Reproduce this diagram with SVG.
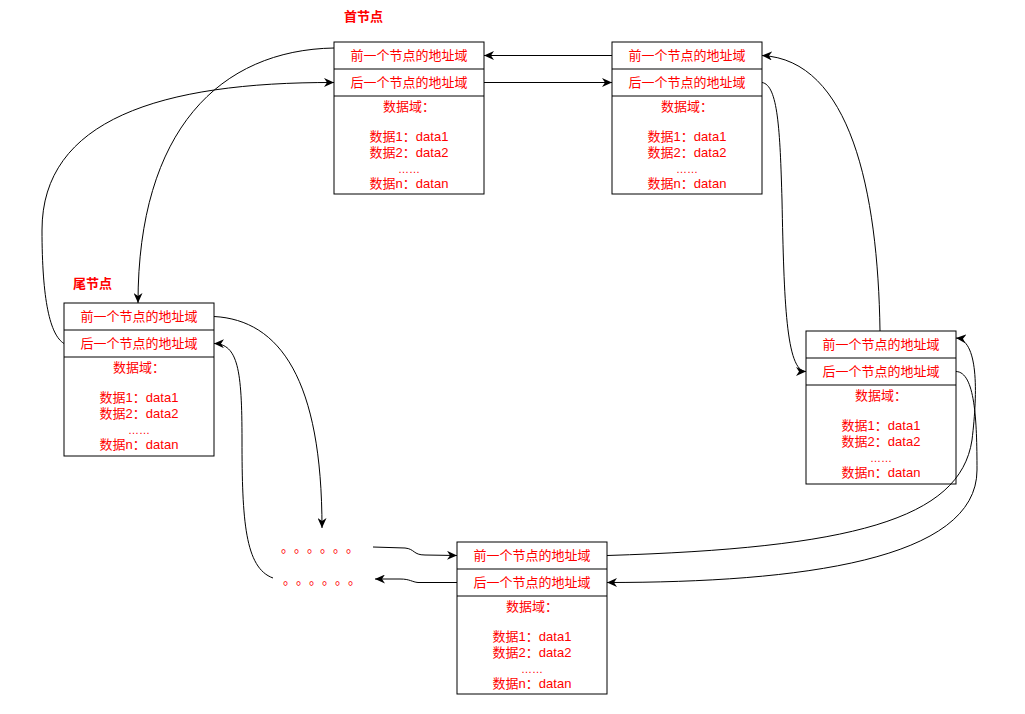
<svg xmlns="http://www.w3.org/2000/svg" width="1025" height="714" viewBox="0 0 1025 714">
<defs>
<style>
.box{fill:#fff;stroke:#000;stroke-width:1}
.div{stroke:#000;stroke-width:1}
.t{font-family:"Liberation Sans","Noto Sans CJK SC",sans-serif;font-size:13px;fill:#ff0000;text-anchor:middle}
.el{font-size:11px}
.lbl{font-family:"Liberation Sans","Noto Sans CJK SC",sans-serif;font-size:13px;font-weight:bold;fill:#ff0000}
.dots{font-family:"Noto Sans CJK SC",sans-serif;font-size:13px;fill:#ff0000}
.c{fill:none;stroke:#000;stroke-width:1}
.a{marker-end:url(#arr)}
</style>
<marker id="arr" markerUnits="userSpaceOnUse" markerWidth="11" markerHeight="9" viewBox="0 0 11 9" refX="10" refY="4.5" orient="auto">
<path d="M0,0 L10,4.5 L0,9 L3,4.5 z" fill="#000"/>
</marker>
</defs>
<rect width="1025" height="714" fill="#fff"/>

<text class="lbl" x="344" y="21">首节点</text>
<text class="lbl" x="73" y="288">尾节点</text>

<g id="node-head">
<rect class="box" x="334" y="42" width="150" height="152"/>
<line class="div" x1="334" y1="69" x2="484" y2="69"/>
<line class="div" x1="334" y1="96" x2="484" y2="96"/>
<text class="t" x="409" y="60">前一个节点的地址域</text>
<text class="t" x="409" y="87">后一个节点的地址域</text>
<text class="t" x="409" y="111">数据域：</text>
<text class="t" x="409" y="141">数据1：data1</text>
<text class="t" x="409" y="157">数据2：data2</text>
<text class="t el" x="409" y="172.5">……</text>
<text class="t" x="409" y="188">数据n：datan</text>
</g>

<g id="node-2">
<rect class="box" x="612" y="42" width="150" height="152"/>
<line class="div" x1="612" y1="69" x2="762" y2="69"/>
<line class="div" x1="612" y1="96" x2="762" y2="96"/>
<text class="t" x="687" y="60">前一个节点的地址域</text>
<text class="t" x="687" y="87">后一个节点的地址域</text>
<text class="t" x="687" y="111">数据域：</text>
<text class="t" x="687" y="141">数据1：data1</text>
<text class="t" x="687" y="157">数据2：data2</text>
<text class="t el" x="687" y="172.5">……</text>
<text class="t" x="687" y="188">数据n：datan</text>
</g>

<g id="node-3">
<rect class="box" x="806" y="331" width="150" height="153"/>
<line class="div" x1="806" y1="358" x2="956" y2="358"/>
<line class="div" x1="806" y1="385" x2="956" y2="385"/>
<text class="t" x="881" y="349">前一个节点的地址域</text>
<text class="t" x="881" y="376">后一个节点的地址域</text>
<text class="t" x="881" y="400">数据域：</text>
<text class="t" x="881" y="430">数据1：data1</text>
<text class="t" x="881" y="446">数据2：data2</text>
<text class="t el" x="881" y="461.5">……</text>
<text class="t" x="881" y="477">数据n：datan</text>
</g>

<g id="node-4">
<rect class="box" x="457" y="542" width="150" height="152"/>
<line class="div" x1="457" y1="569" x2="607" y2="569"/>
<line class="div" x1="457" y1="596" x2="607" y2="596"/>
<text class="t" x="532" y="560">前一个节点的地址域</text>
<text class="t" x="532" y="587">后一个节点的地址域</text>
<text class="t" x="532" y="611">数据域：</text>
<text class="t" x="532" y="641">数据1：data1</text>
<text class="t" x="532" y="657">数据2：data2</text>
<text class="t el" x="532" y="672.5">……</text>
<text class="t" x="532" y="688">数据n：datan</text>
</g>

<g id="node-tail">
<rect class="box" x="64" y="303" width="150" height="153"/>
<line class="div" x1="64" y1="330" x2="214" y2="330"/>
<line class="div" x1="64" y1="357" x2="214" y2="357"/>
<text class="t" x="139" y="321">前一个节点的地址域</text>
<text class="t" x="139" y="348">后一个节点的地址域</text>
<text class="t" x="139" y="372">数据域：</text>
<text class="t" x="139" y="402">数据1：data1</text>
<text class="t" x="139" y="418">数据2：data2</text>
<text class="t el" x="139" y="433.5">……</text>
<text class="t" x="139" y="449">数据n：datan</text>
</g>

<g id="ellipsis">
<text class="dots" x="281 294 307 320 333 346" y="552">。。。。。。</text>
<text class="dots" x="283 296 309 322 335 348" y="584">。。。。。。</text>
</g>

<g id="connectors">
<path class="c a" d="M612,55.5 L484,55.5"/>
<path class="c a" d="M484,82.5 L612,82.5"/>
<path class="c a" d="M762,82.5 C778,85 780,130 782,200 C784,300 786,371.5 806,371.5"/>
<path class="c a" d="M880,331 C878,190 850,60 762,55.5"/>
<path class="c a" d="M956,371.5 C975,372 977,420 977,470 C977,560 800,582.5 607,582.5"/>
<path class="c a" d="M607,555.5 C850,548 960,520 972,440 C978,390 978,340 956,338"/>
<path class="c a" d="M373,547 L405,548 C415,549 413,555 425,555 L457,555.5"/>
<path class="c a" d="M457,582.5 L418,582.5 C412,582 410,579 400,579 L375,579"/>
<path class="c a" d="M214,316.5 C280,320 322,380 322,528"/>
<path class="c a" d="M273,578 C245,568 242,520 242,440 C242,370 238,344 214,343.5"/>
<path class="c a" d="M64,343.5 C50,335 42,300 42,230 C42,120 160,82 334,82.5"/>
<path class="c a" d="M334,48 C220,50 138,130 138,303"/>
</g>
</svg>
